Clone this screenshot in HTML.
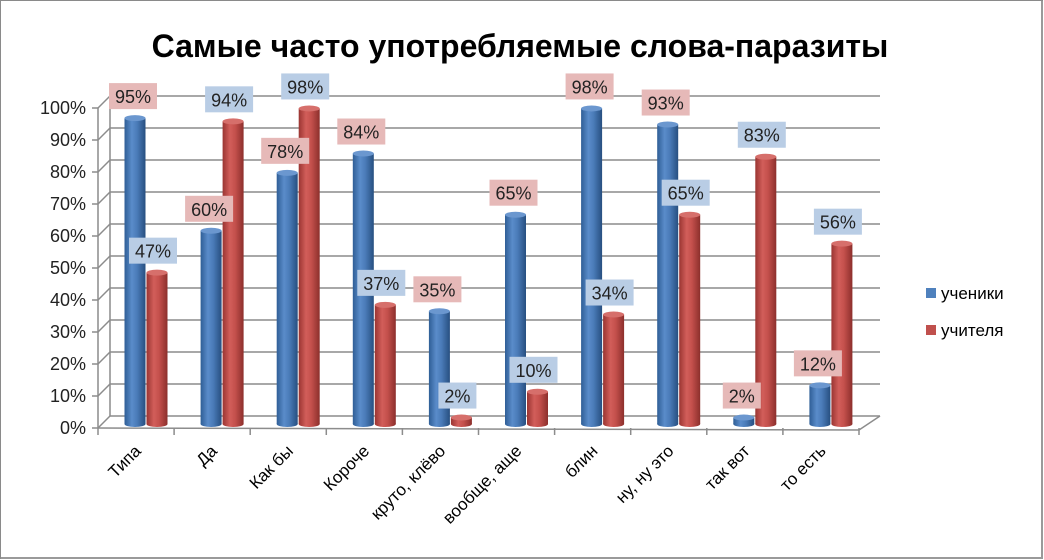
<!DOCTYPE html>
<html><head><meta charset="utf-8"><style>
body{margin:0;background:#fff}
svg{display:block;font-family:"Liberation Sans","DejaVu Sans",sans-serif}
</style></head><body>
<svg width="1044" height="560" viewBox="0 0 1044 560" xmlns="http://www.w3.org/2000/svg">
<defs>
<linearGradient id="gb" x1="0" x2="1" y1="0" y2="0">
<stop offset="0" stop-color="#2f5e96"/><stop offset="0.35" stop-color="#5a8cca"/><stop offset="0.6" stop-color="#4a7bb8"/><stop offset="1" stop-color="#274f80"/></linearGradient>
<linearGradient id="gr" x1="0" x2="1" y1="0" y2="0">
<stop offset="0" stop-color="#9a3532"/><stop offset="0.35" stop-color="#d25e5a"/><stop offset="0.6" stop-color="#c4504c"/><stop offset="1" stop-color="#8c2f2c"/></linearGradient>
</defs>
<rect x="0.5" y="0.5" width="1042" height="558" fill="#fff" stroke="#8a8a8a"/>
<rect x="1041" y="1" width="2" height="558" fill="#9a9a9a"/>
<rect x="1" y="557" width="1042" height="2" fill="#9a9a9a"/>
<text x="520" y="57" text-anchor="middle" font-size="32" font-weight="bold" fill="#000">Самые часто употребляемые слова-паразиты</text>
<g id="grid" stroke="#8c8c8c" stroke-width="1.5" fill="none"></g>
<g id="bars"></g>
<g id="labels" font-size="18" fill="#222"></g>
<g id="xl" font-size="17" fill="#000"></g>
<g font-size="17" fill="#000">
<rect x="926" y="288" width="10" height="10" fill="#4f81bd"/><text x="941" y="299">ученики</text>
<rect x="926" y="325" width="10" height="10" fill="#c0504d"/><text x="941" y="336">учителя</text>
</g>
</svg>
<script>
const ns="http://www.w3.org/2000/svg";
function el(p,t,a,txt){const e=document.createElementNS(ns,t);for(const k in a)e.setAttribute(k,a[k]);if(txt!=null)e.textContent=txt;p.appendChild(e);return e;}
const g=document.getElementById('grid');
for(let i=0;i<=10;i++){
 const yf=428-i*32, yb=416-i*32;
 el(g,'line',{x1:110,y1:yb,x2:880,y2:yb});
 el(g,'line',{x1:98,y1:yf,x2:110,y2:yb});
 el(g,'line',{x1:92,y1:yf,x2:98,y2:yf});
 el(document.getElementById('labels'),'text',{x:86,y:yf+6,'text-anchor':'end'},(i*10)+'%');
}
el(g,'line',{x1:98,y1:108,x2:98,y2:428});
el(g,'line',{x1:110,y1:96,x2:110,y2:416});
el(g,'line',{x1:98,y1:428,x2:859,y2:430});
el(g,'line',{x1:859,y1:430,x2:880,y2:416});
for(let i=0;i<=10;i++){const x=98+76.1*i;el(g,'line',{x1:x,y1:428,x2:x,y2:435});}
const cats=["Типа","Да","Как бы","Короче","круто, клёво","вообще, аще","блин","ну, ну это","так вот","то есть"];
const a=[95,60,78,84,35,65,98,93,2,12];
const b=[47,94,98,37,2,10,34,65,83,56];
const bars=document.getElementById('bars'),lab=document.getElementById('labels'),xl=document.getElementById('xl');
function cyl(cx,v,grad,top){
 const w=21,yb=424,yt=yb-v*3.22;
 el(bars,'ellipse',{cx:cx,cy:yb,rx:w/2,ry:3,fill:'url(#'+grad+')'});
 el(bars,'rect',{x:cx-w/2,y:yt,width:w,height:yb-yt,fill:'url(#'+grad+')'});
 el(bars,'ellipse',{cx:cx,cy:yt,rx:w/2,ry:3,fill:top});
 return yt;
}
function lbl(cx,yt,v,bg){
 const t=v+'%',w=t.length>2?48:38;
 el(lab,'rect',{x:cx-w/2,y:yt-35,width:w,height:26,fill:bg});
 el(lab,'text',{x:cx,y:yt-15,'text-anchor':'middle'},t);
}
for(let i=0;i<10;i++){
 const cb=135+76.1*i,cr=157+76.1*i;
 const ta=cyl(cb,a[i],'gb','#6b97cf');
 const tb=cyl(cr,b[i],'gr','#d66f6b');
 lbl(cb-2,ta,a[i],'#e6b9b8');
 lbl(cr-4,tb,b[i],'#b9cde5');
 const x=142+76.1*i;
 el(xl,'text',{x:x,y:452,'text-anchor':'end',transform:'rotate(-45 '+x+' 452)'},cats[i]);
}
</script>
</body></html>
